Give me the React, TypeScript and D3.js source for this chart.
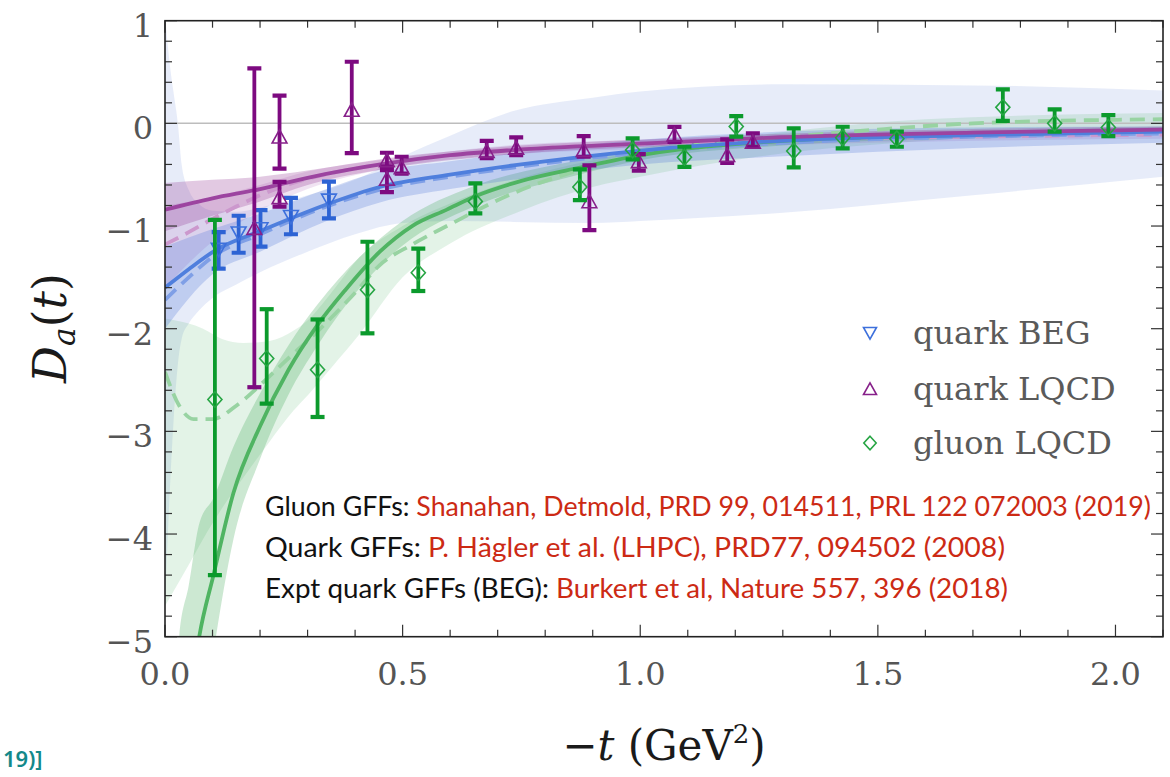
import React from 'react';
import * as d3 from 'd3';

const W = 1170;
const H = 777;

// axis domains and ticks
const tDomain: [number, number] = [0, 2.1];
const dDomain: [number, number] = [-5, 1];
const xTickValues = [0, 0.5, 1.0, 1.5, 2.0];
const xTickLabels = ['0.0', '0.5', '1.0', '1.5', '2.0'];
const yTickValues = [1, 0, -1, -2, -3, -4, -5];
const yTickLabels = ['1', '0', '\u22121', '\u22122', '\u22123', '\u22124', '\u22125'];

// data points: [t, D, lo, hi]
const quarkBEG: number[][] = [
  [0.113, -1.23, -1.415, -1.06],
  [0.155, -1.07, -1.26, -0.9],
  [0.201, -1.03, -1.2, -0.845],
  [0.265, -0.91, -1.08, -0.725],
  [0.345, -0.75, -0.925, -0.568],
];

const quarkLQCD: number[][] = [
  [0.188, -1.02, -2.57, 0.535],
  [0.241, -0.13, -0.44, 0.27],
  [0.241, -0.72, -0.81, -0.57],
  [0.393, 0.13, -0.29, 0.6],
  [0.467, -0.36, -0.42, -0.286],
  [0.467, -0.54, -0.67, -0.455],
  [0.498, -0.43, -0.49, -0.325],
  [0.677, -0.27, -0.34, -0.17],
  [0.739, -0.24, -0.31, -0.136],
  [0.881, -0.26, -0.325, -0.124],
  [0.893, -0.76, -1.04, -0.41],
  [0.997, -0.37, -0.46, -0.3],
  [1.072, -0.11, -0.18, -0.035],
  [1.183, -0.31, -0.385, -0.155],
  [1.237, -0.18, -0.228, -0.097],
];

const gluonLQCD: number[][] = [
  [0.105, -2.69, -4.4, -0.94],
  [0.214, -2.29, -2.73, -1.81],
  [0.321, -2.4, -2.86, -1.91],
  [0.426, -1.62, -2.045, -1.153],
  [0.533, -1.455, -1.633, -1.22],
  [0.653, -0.76, -0.876, -0.584],
  [0.873, -0.62, -0.747, -0.448],
  [0.984, -0.26, -0.35, -0.146],
  [1.093, -0.33, -0.423, -0.228],
  [1.202, -0.03, -0.13, 0.071],
  [1.323, -0.27, -0.428, -0.049],
  [1.426, -0.14, -0.243, -0.033],
  [1.54, -0.15, -0.228, -0.081],
  [1.763, 0.156, 0.025, 0.331],
  [1.872, 0.0, -0.081, 0.136],
  [1.985, -0.04, -0.124, 0.081],
];

// fit curves: [t, D]
const blueSolid: number[][] = [
  [0, -1.6], [0.05, -1.42], [0.105, -1.24], [0.2, -1.05], [0.34, -0.79], [0.452, -0.62],
  [0.6, -0.5], [0.733, -0.41], [1.014, -0.26], [1.295, -0.17], [1.7, -0.115], [2.1, -0.08],
];
const blueDashed: number[][] = [
  [0, -1.72], [0.05, -1.5], [0.1, -1.3], [0.2, -1.08], [0.34, -0.81], [0.452, -0.645],
  [0.6, -0.52], [0.733, -0.43], [1.014, -0.28], [1.3, -0.19], [1.7, -0.13], [2.1, -0.1],
];
const purpleSolid: number[][] = [
  [0, -0.84], [0.1, -0.73], [0.2, -0.64], [0.3, -0.53], [0.467, -0.39], [0.6, -0.31],
  [0.733, -0.26], [1.014, -0.195], [1.295, -0.135], [1.7, -0.09], [2.1, -0.06],
];
const purpleDashed: number[][] = [
  [0, -1.18], [0.05, -1.06], [0.1, -0.93], [0.15, -0.81], [0.2, -0.7], [0.25, -0.61],
  [0.3, -0.54], [0.467, -0.39], [0.733, -0.255], [1.014, -0.2], [1.295, -0.16], [1.7, -0.13], [2.1, -0.11],
];
const greenSolid: number[][] = [
  [0.02, -7.0], [0.03, -6.5], [0.05, -5.7], [0.072, -5.0], [0.102, -4.4], [0.144, -3.6],
  [0.2, -2.95], [0.26, -2.4], [0.32, -1.97], [0.38, -1.62], [0.452, -1.25], [0.52, -1.0],
  [0.593, -0.84], [0.653, -0.71], [0.75, -0.56], [0.874, -0.43], [1.014, -0.3], [1.3, -0.17],
  [1.7, -0.11], [2.1, -0.07],
];
const greenDashed: number[][] = [
  [0, -2.42], [0.03, -2.75], [0.06, -2.88], [0.1, -2.88], [0.15, -2.75], [0.2, -2.55],
  [0.25, -2.33], [0.32, -2.03], [0.4, -1.65], [0.452, -1.38], [0.52, -1.18], [0.593, -1.0],
  [0.733, -0.68], [0.874, -0.45], [1.014, -0.28], [1.27, -0.15], [1.5, -0.06], [1.7, 0.0], [2.1, 0.04],
];

// uncertainty bands: [t, lo, hi]
const blueWideBand: number[][] = [
  [0, -4.7, 1.05], [0.006, -4.0, 0.75], [0.012, -3.4, 0.5], [0.018, -2.9, 0.3], [0.027, -2.35, 0.0],
  [0.035, -2.1, -0.4], [0.05, -1.95, -0.65], [0.07, -1.83, -0.78], [0.1, -1.7, -0.85], [0.15, -1.57, -0.86],
  [0.2, -1.45, -0.82], [0.3, -1.25, -0.7], [0.4, -1.08, -0.55], [0.5, -0.97, -0.32], [0.6, -0.95, -0.12],
  [0.733, -0.96, 0.12], [0.9, -0.97, 0.25], [1.0, -0.95, 0.31], [1.3, -0.87, 0.38], [1.7, -0.7, 0.37], [2.1, -0.52, 0.32],
];
const blueBand: number[][] = [
  [0, -2.0, -1.2], [0.1, -1.47, -1.03], [0.2, -1.25, -0.88], [0.34, -0.95, -0.64], [0.452, -0.77, -0.47],
  [0.6, -0.64, -0.37], [0.733, -0.55, -0.29], [1.0, -0.4, -0.16], [1.3, -0.32, -0.08], [1.7, -0.24, -0.04], [2.1, -0.19, -0.03],
];
const purpleBand: number[][] = [
  [0, -1.05, -0.58], [0.1, -0.9, -0.55], [0.2, -0.76, -0.52], [0.3, -0.6, -0.46], [0.467, -0.44, -0.34],
  [0.733, -0.3, -0.22], [1.0, -0.23, -0.16], [1.3, -0.17, -0.1], [1.7, -0.12, -0.055], [2.1, -0.09, -0.03],
];
const purpleLightBand: number[][] = [
  [0, -1.6, -0.8], [0.1, -1.15, -0.72], [0.2, -0.85, -0.6], [0.3, -0.64, -0.47], [0.467, -0.44, -0.35],
  [0.733, -0.3, -0.21], [1.0, -0.25, -0.16], [1.3, -0.21, -0.12], [1.7, -0.17, -0.09], [2.1, -0.15, -0.07],
];
const greenBand: number[][] = [
  [0.02, -9.5, -5.6], [0.03, -8.0, -5.0], [0.05, -6.9, -4.5], [0.072, -6.1, -3.9], [0.102, -5.15, -3.65],
  [0.144, -4.05, -3.15], [0.2, -3.27, -2.63], [0.26, -2.64, -2.16], [0.32, -2.17, -1.77], [0.41, -1.6, -1.3],
  [0.5, -1.19, -0.95], [0.65, -0.81, -0.61], [0.87, -0.5, -0.36], [1.0, -0.36, -0.24], [1.3, -0.215, -0.125],
  [1.7, -0.145, -0.075], [2.1, -0.1, -0.04],
];
const greenLightBand: number[][] = [
  [0, -4.7, -1.9], [0.05, -4.3, -1.95], [0.08, -4.05, -2.0], [0.12, -3.75, -2.1], [0.165, -3.45, -2.14],
  [0.22, -3.1, -2.12], [0.27, -2.8, -2.02], [0.3, -2.65, -1.92], [0.35, -2.38, -1.65], [0.41, -2.05, -1.3],
  [0.5, -1.5, -1.0], [0.6, -1.17, -0.78], [0.75, -0.85, -0.53], [0.9, -0.62, -0.36], [1.0, -0.52, -0.27],
  [1.27, -0.31, -0.1], [1.6, -0.17, 0.04], [2.1, -0.05, 0.1],
];

const legendLabels = ['quark BEG', 'quark LQCD', 'gluon LQCD'];

const refLines = [
  { head: 'Gluon GFFs: ', cite: 'Shanahan, Detmold, PRD 99, 014511, PRL 122 072003 (2019)', len: 886 },
  { head: 'Quark GFFs: ', cite: 'P. H\u00e4gler et al. (LHPC), PRD77, 094502 (2008)', len: 740 },
  { head: 'Expt quark GFFs (BEG): ', cite: 'Burkert et al, Nature 557, 396 (2018)', len: 743 },
];

const slideRemnant = '19)]';

const C = {
  blue: '#2d63d4',
  blueMk: '#3d70dc',
  purple: '#7d0a80',
  purpleMk: '#87208a',
  green: '#0b9a2c',
  greenMk: '#27a544',
};

function markerPath(kind: string, cx: number, cy: number, s: number) {
  if (kind === 'down') return `M${cx - s},${cy - s * 0.85}L${cx + s},${cy - s * 0.85}L${cx},${cy + s * 0.95}Z`;
  if (kind === 'up') return `M${cx - s},${cy + s * 0.85}L${cx + s},${cy + s * 0.85}L${cx},${cy - s * 0.95}Z`;
  return `M${cx},${cy - s * 1.05}L${cx + s * 0.95},${cy}L${cx},${cy + s * 1.05}L${cx - s * 0.95},${cy}Z`;
}

export default function App() {
  const x = d3.scaleLinear().domain(tDomain).range([165, 1163]);
  const y = d3.scaleLinear().domain(dDomain).range([636.7, 20.7]);
  const left = x(tDomain[0]);
  const right = x(tDomain[1]);
  const top = y(dDomain[1]);
  const bottom = y(dDomain[0]);

  const line = d3.line<number[]>().x((d) => x(d[0])).y((d) => y(d[1])).curve(d3.curveMonotoneX);
  const area = d3
    .area<number[]>()
    .x((d) => x(d[0]))
    .y0((d) => y(d[1]))
    .y1((d) => y(d[2]))
    .curve(d3.curveMonotoneX);

  const xMinor = x.ticks(21);
  const yMinor = d3.range(-5, 1.0001, 0.2);

  const renderPoints = (pts: number[][], color: string, mk: string, kind: string) =>
    pts.map((p, i) => {
      const cx = x(p[0]);
      const y0 = y(p[2]);
      const y1 = y(p[3]);
      return (
        <g key={kind + i}>
          <line x1={cx} x2={cx} y1={y0} y2={y1} stroke={color} strokeWidth={3.8} />
          <line x1={cx - 7} x2={cx + 7} y1={y0} y2={y0} stroke={color} strokeWidth={4.2} />
          <line x1={cx - 7} x2={cx + 7} y1={y1} y2={y1} stroke={color} strokeWidth={4.2} />
          <path d={markerPath(kind, cx, y(p[1]), 7.4)} fill="none" stroke={mk} strokeWidth={1.6} />
        </g>
      );
    });

  const tickFont = 'DejaVu Serif, Liberation Serif, serif';

  return (
    <svg width={W} height={H} style={{ position: 'fixed', left: 0, top: 0, background: '#fff' }}>
      <defs>
        <clipPath id="plotclip">
          <rect x={left} y={top} width={right - left} height={bottom - top} />
        </clipPath>
      </defs>
      <rect x={0} y={0} width={W} height={H} fill="#fff" />

      <g clipPath="url(#plotclip)">
        {/* bands */}
        <path d={area(blueWideBand) || ''} fill="rgba(70,110,210,0.13)" />
        <path d={area(greenLightBand) || ''} fill="rgba(60,170,85,0.14)" />
        <path d={area(purpleLightBand) || ''} fill="rgba(150,60,160,0.14)" />
        <path d={area(greenBand) || ''} fill="rgba(50,165,75,0.25)" />
        <path d={area(blueBand) || ''} fill="rgba(70,110,215,0.25)" />
        <path d={area(purpleBand) || ''} fill="rgba(140,40,140,0.25)" />

        {/* zero line */}
        <line x1={left} x2={right} y1={y(0)} y2={y(0)} stroke="#bdbdbd" strokeWidth={1.5} />

        {/* fit lines */}
        <path d={line(greenDashed) || ''} fill="none" stroke="#98d3a2" strokeWidth={3.8} strokeDasharray="15 8" />
        <path d={line(purpleDashed) || ''} fill="none" stroke="#cc98cd" strokeWidth={3.8} strokeDasharray="15 8" />
        <path d={line(blueDashed) || ''} fill="none" stroke="#7f9fe6" strokeWidth={3.8} strokeDasharray="15 8" />
        <path d={line(greenSolid) || ''} fill="none" stroke="#4fb462" strokeWidth={3.8} />
        <path d={line(blueSolid) || ''} fill="none" stroke="#4f7fdd" strokeWidth={3.8} />
        <path d={line(purpleSolid) || ''} fill="none" stroke="#9c44a0" strokeWidth={3.8} />

        {/* data */}
        {renderPoints(quarkBEG, C.blue, C.blueMk, 'down')}
        {renderPoints(quarkLQCD, C.purple, C.purpleMk, 'up')}
        {renderPoints(gluonLQCD, C.green, C.greenMk, 'diamond')}
      </g>

      {/* ticks */}
      {xMinor.map((v, i) => {
        const major = xTickValues.some((m) => Math.abs(m - v) < 1e-6);
        const len = major ? 12 : 7;
        return (
          <g key={'xt' + i}>
            <line x1={x(v)} x2={x(v)} y1={bottom} y2={bottom - len} stroke="#333" strokeWidth={1.2} />
            <line x1={x(v)} x2={x(v)} y1={top} y2={top + len} stroke="#333" strokeWidth={1.2} />
          </g>
        );
      })}
      {yMinor.map((v, i) => {
        const major = Math.abs(v - Math.round(v)) < 1e-6;
        const len = major ? 12 : 7;
        return (
          <g key={'yt' + i}>
            <line x1={left} x2={left + len} y1={y(v)} y2={y(v)} stroke="#333" strokeWidth={1.2} />
            <line x1={right} x2={right - len} y1={y(v)} y2={y(v)} stroke="#333" strokeWidth={1.2} />
          </g>
        );
      })}

      {/* frame */}
      <rect x={left} y={top} width={right - left} height={bottom - top} fill="none" stroke="#222" strokeWidth={1.6} />

      {/* tick labels */}
      {xTickValues.map((v, i) => (
        <text key={'xl' + i} x={x(v)} y={685} textAnchor="middle" fontFamily={tickFont} fontSize={32} fill="#555">
          {xTickLabels[i]}
        </text>
      ))}
      {yTickValues.map((v, i) => (
        <text key={'yl' + i} x={153} y={y(v) + 16} textAnchor="end" fontFamily={tickFont} fontSize={32} fill="#555">
          {yTickLabels[i]}
        </text>
      ))}

      {/* axis titles */}
      <text x={664} y={760} textAnchor="middle" fontFamily={tickFont} fontSize={42} fill="#1a1a1a">
        {'\u2212'}
        <tspan fontStyle="italic">t</tspan>
        {' (GeV'}
        <tspan fontSize={26} dy={-17}>2</tspan>
        <tspan dy={17}>)</tspan>
      </text>
      <text
        transform="translate(66,328) rotate(-90)"
        textAnchor="middle"
        fontFamily={tickFont}
        fontSize={46}
        fill="#1a1a1a"
      >
        <tspan fontStyle="italic">D</tspan>
        <tspan fontStyle="italic" fontSize={31} dy={9}>a</tspan>
        <tspan dy={-9}>(</tspan>
        <tspan fontStyle="italic">t</tspan>
        <tspan>)</tspan>
      </text>

      {/* legend */}
      {legendLabels.map((lab, i) => {
        const cy = [333, 389, 443][i];
        const kind = ['down', 'up', 'diamond'][i];
        const col = [C.blueMk, C.purpleMk, C.greenMk][i];
        return (
          <g key={'lg' + i}>
            <path d={markerPath(kind, 870, cy, 6.5)} fill="none" stroke={col} strokeWidth={1.6} />
            <text x={913} y={cy + 11} fontFamily={tickFont} fontSize={32} fill="#5a5a5a">
              {lab}
            </text>
          </g>
        );
      })}

      {/* references */}
      {refLines.map((r, i) => (
        <text
          key={'ref' + i}
          x={265}
          y={516 + i * 41}
          fontFamily="Lato, Open Sans, sans-serif"
          fontSize={27}
          textLength={r.len}
          lengthAdjust="spacingAndGlyphs"
        >
          <tspan fill="#111">{r.head}</tspan>
          <tspan fill="#cc2a14">{r.cite}</tspan>
        </text>
      ))}

      {/* slide remnant at bottom-left */}
      <text x={3} y={767} fontFamily="Noto Sans, sans-serif" fontSize={22} fontWeight={600} fill="#13898a">
        {slideRemnant}
      </text>
    </svg>
  );
}
